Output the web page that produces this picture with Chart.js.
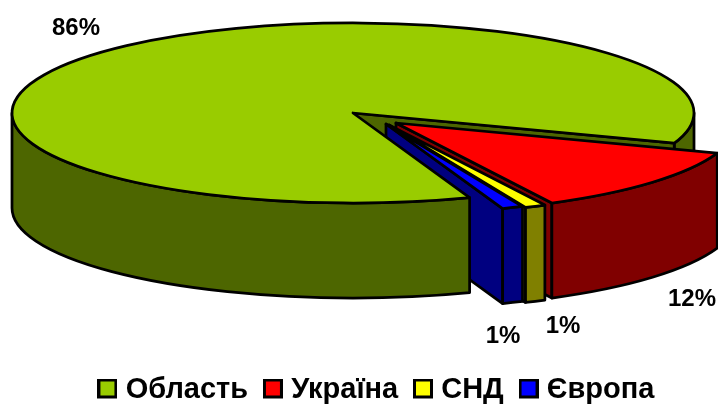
<!DOCTYPE html>
<html>
<head>
<meta charset="utf-8">
<title>Pie</title>
<style>
  body { margin: 0; background: #fff; }
  #pie { display: block; }
</style>
<script src="https://cdn.jsdelivr.net/npm/chart.js@4"></script>
</head>
<body>
<canvas id="pie" width="718" height="406"></canvas>
<script>
let categories = ["Область", "Україна", "СНД", "Європа"]
let shares = [86, 12, 1, 1]

let topColors = ["#99CC00", "#FF0000", "#FFFF00", "#0000FF"]
let wallColors = ["#4D6600", "#800000", "#808000", "#000080"]

// where the pie sits on the page: it is a flattened 3d disc
let disc = { x: 353, y: 113, rx: 341, ry: 90, depth: 95 }
let sliceShift = [[0, 0], [43, 10], [36, 12], [33, 11]]
let labelSpots = [[76, 28], [692, 299], [563, 326], [503, 336]]

function swatch(color) {
    let c = document.createElement("canvas")
    c.width = 20
    c.height = 22
    let g = c.getContext("2d")
    g.fillStyle = color
    g.fillRect(1, 1, 18, 18)
    g.lineWidth = 3
    g.strokeStyle = "#000"
    g.strokeRect(1.5, 1.5, 17, 17)
    return c
}

function paint(ctx, fill) {
    ctx.fillStyle = fill
    ctx.fill()
    ctx.stroke()
}

function outerWall(ctx, c, from, to, fill) {
    ctx.beginPath()
    ctx.ellipse(c.x, c.y, disc.rx, disc.ry, 0, from, to)
    ctx.ellipse(c.x, c.y + disc.depth, disc.rx, disc.ry, 0, to, from, true)
    ctx.closePath()
    paint(ctx, fill)
}

function cutWall(ctx, c, angle, fill) {
    let ex = c.x + disc.rx * Math.cos(angle)
    let ey = c.y + disc.ry * Math.sin(angle)
    ctx.beginPath()
    ctx.moveTo(c.x, c.y)
    ctx.lineTo(ex, ey)
    ctx.lineTo(ex, ey + disc.depth)
    ctx.lineTo(c.x, c.y + disc.depth)
    ctx.closePath()
    paint(ctx, fill)
}

function topFace(ctx, c, arc, fill) {
    ctx.beginPath()
    ctx.moveTo(c.x, c.y)
    ctx.ellipse(c.x, c.y, disc.rx, disc.ry, 0, arc.startAngle, arc.endAngle)
    ctx.closePath()
    paint(ctx, fill)
}

// parts of the rim that face the viewer, [from, to]
function rimSpans(arc) {
    let spans = []
    for (let k = 0; k < 2; k++) {
        let lo = Math.max(arc.startAngle, 2 * Math.PI * k)
        let hi = Math.min(arc.endAngle, 2 * Math.PI * k + Math.PI)
        if (lo < hi) spans.push([lo, hi])
    }
    return spans
}

let pie3d = {
    id: "pie3d",
    beforeDatasetsDraw(chart) {
        let ctx = chart.ctx
        let arcs = chart.getDatasetMeta(0).data
        let center = i => ({ x: disc.x + sliceShift[i][0], y: disc.y + sliceShift[i][1] })

        ctx.save()
        ctx.lineWidth = 2.75
        ctx.strokeStyle = "#000"
        ctx.lineJoin = "round"

        // the big slice has to be split, its rim is behind and in front of the others
        let big = arcs[0]
        let spans = rimSpans(big)
        spans.filter(s => s[0] >= 2 * Math.PI).forEach(s => outerWall(ctx, center(0), s[0], s[1], wallColors[0]))
        cutWall(ctx, center(0), big.endAngle, wallColors[0])

        arcs.forEach((arc, i) => {
            if (i == 0) return
            let c = center(i)
            if (Math.cos(arc.startAngle) < 0) cutWall(ctx, c, arc.startAngle, wallColors[i])
            if (Math.cos(arc.endAngle) > 0) cutWall(ctx, c, arc.endAngle, wallColors[i])
            rimSpans(arc).forEach(s => outerWall(ctx, c, s[0], s[1], wallColors[i]))
            topFace(ctx, c, arc, topColors[i])
        })

        spans.filter(s => s[0] < 2 * Math.PI).forEach(s => outerWall(ctx, center(0), s[0], s[1], wallColors[0]))
        topFace(ctx, center(0), big, topColors[0])

        ctx.fillStyle = "#000"
        ctx.font = "bold 24px 'Liberation Sans', Arial, sans-serif"
        ctx.textAlign = "center"
        ctx.textBaseline = "middle"
        shares.forEach((v, i) => ctx.fillText(v + "%", labelSpots[i][0], labelSpots[i][1]))
        ctx.restore()
        return false
    }
}

let chart = new Chart(
    document.querySelector("#pie"),
    {
        type: "pie",
        data: {
            labels: categories,
            datasets: [{
                data: shares,
                backgroundColor: topColors,
                borderColor: "#000",
                borderWidth: 2
            }]
        },
        options: {
            responsive: false,
            animation: false,
            rotation: 160,
            layout: { padding: { left: 40, bottom: -8 } },
            plugins: {
                tooltip: { enabled: false },
                legend: {
                    position: "bottom",
                    labels: {
                        usePointStyle: true,
                        pointStyleWidth: 7.5,
                        padding: 21,
                        color: "#000",
                        font: { family: "'Liberation Sans', Arial, sans-serif", size: 29, weight: "bold" },
                        generateLabels(chart) {
                            let items = Chart.overrides.pie.plugins.legend.labels.generateLabels(chart)
                            items.forEach((item, i) => {
                                item.pointStyle = swatch(topColors[i])
                            })
                            return items
                        }
                    }
                }
            }
        },
        plugins: [pie3d]
    }
)
</script>
</body>
</html>
